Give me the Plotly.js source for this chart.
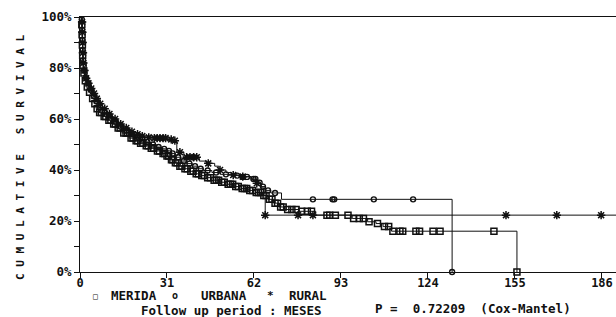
<!DOCTYPE html>
<html>
<head>
<meta charset="utf-8">
<script src="https://cdn.plot.ly/plotly-3.0.1.min.js"></script>
<style>html,body{margin:0;padding:0;background:#fff;}#chart{width:616px;height:317px;}</style>
</head>
<body>
<div id="chart"></div>
<script>
// ---- MERIDA (squares) step curve ----
var meridaTime = [0,0.6,0.7,0.8,0.9,1.0,1.2,1.6,2.2,3,4,5,5.8,6.6,8,9.5,11.5,13,15,17.5,19.5,21,23,25,27,29,30.5,32,33.5,35,37,39,41,43,45,47.5,50,52.5,55,57.5,60,62.5,65,67,69,71,73,78,84,97,102.5,105.5,108,111,155.7];
var meridaSurv = [100,97,93,89,85,81,78,75,72.5,70.5,68,66,64,62.5,61,59.5,58,56.5,54.5,52.5,51.5,50.5,49.5,48.5,47.5,46.5,45.5,44,42.8,41.5,40.5,39.5,38.5,37.8,37,36,35.2,34.4,33.5,32.7,32,31.2,30,28.5,27,25.5,24.5,23.8,22.3,21,19.7,19,17.8,16,0];
var meridaCensored = [0.65,0.75,0.85,0.95,1.1,1.4,1.9,2.6,3.4,4.5,5.3,6.1,7,7.6,8.6,9.2,10.3,11,12,12.6,13.6,14.3,15.6,16.4,17,18.2,18.9,20,20.6,21.6,22.4,23.6,24.3,25.4,26.2,27.6,28.3,29.6,30.2,31,31.6,32.6,33.1,34,34.6,35.6,36.3,37.4,38.2,39.5,40.3,41.4,42.2,43.4,44.3,45.5,46.5,47.8,48.6,49.4,50.5,51.4,52.8,53.6,54.4,55.5,56.4,57.8,58.6,59.4,60.5,61.5,62.8,63.6,64.4,65.5,66.3,67.5,68.4,69.5,70.4,71.5,72.4,74,75.5,77,79,81,82.5,88,89,91,95.5,97.5,99.5,101,103,106,108.5,110,111.5,114,115,119.7,121,125.8,128.3,147.5,155.7];

// ---- URBANA (circles) step curve ----
var urbanaTime = [0,0.6,0.7,0.8,0.9,1.0,1.2,1.8,2.5,3.5,4.5,5.5,6.5,8,9.5,11.5,13.5,15.5,17.5,19.5,21.5,23,25,27,29,31,32.5,34,36,38,40,42,44,47,50,54,58,61,63,64.5,66,68,71.8,132.6];
var urbanaSurv = [100,99,95,91,87,83,79,76,74,71.5,69,67,64.5,62.5,61,59,57,55.5,54,53,52,51,50,49,48.3,47.5,46.5,45,43.5,42.5,41.5,40.5,39.8,39,38.3,37.8,37.3,36.5,35,33.5,32,31,28.5,0];
var urbanaCensored = [0.65,0.75,0.85,0.95,1.1,1.5,2.2,3,4,5,6,7.2,8.8,10.5,12.5,14.5,16.5,18.5,20.5,22.2,24,26,28,30,31.7,33,35,37,39,41,43,45.5,48.5,52,56,58,59.5,61.8,62.5,64,65.2,67,69.5,83,90,90.6,104.7,118.7,132.6];

// ---- RURAL (asterisks) step curve ----
var ruralTime = [0,0.7,0.8,0.9,1.0,1.1,1.3,1.9,2.6,3.5,4.5,5.5,6.5,8,9.5,11.5,13.5,15.5,17.5,19.5,21.5,23,26,31,33,34.5,37,42.5,45,48,49.5,52,54,57,61,63,64.5,65.5,66,191];
var ruralSurv = [100,98,94,90,86,82,79,76,74,72,70,68,66,64,62,60,58,56.5,55,54,53.3,52.8,52.5,52,51.5,47,45,43.5,42.6,41.5,40,39,38,37.4,36.2,34.8,33,31,22.3,22.3];
var ruralCensored = [0.75,0.85,0.95,1.05,1.2,1.6,2.2,3,4,5,6,7.2,8.8,10.5,12.5,14.5,16.5,18.5,20.5,22.2,24.5,26.5,27.5,28.5,29.6,30.5,32.5,33.8,35.6,38,39.2,40.5,41.6,45.7,49.9,54.6,58,63,66,77.7,83,151.8,169.9,185.7];

// ---- axis ticks & texts ----
var xTicks = [0,31,62,93,124,155,186];
var yTicks = [0,20,40,60,80,100];
var groupNames = ['MERIDA','URBANA','RURAL'];
var yTitle = 'C U M U L A T I V E   S U R V I V A L';
var xTitle = 'Follow up period : MESES';
var pText = 'P =  0.72209  (Cox-Mantel)';

function stepAt(T, S, t) {
  var v = S[0];
  for (var i = 0; i < T.length; i++) { if (T[i] <= t + 1e-9) v = S[i]; }
  return v;
}
function censorY(T, S, C) { return C.map(function (t) { return stepAt(T, S, t); }); }

var ink = '#111';
var FONT = '"DejaVu Sans Mono", monospace';

function curve(T, S) {
  return {x: T, y: S, type: 'scatter', mode: 'lines', line: {shape: 'hv', color: ink, width: 1}, hoverinfo: 'skip', cliponaxis: false};
}
function marks(T, S, C, sym, size, lw) {
  return {x: C, y: censorY(T, S, C), type: 'scatter', mode: 'markers', cliponaxis: false,
    marker: {symbol: sym, size: size, color: ink, line: {color: ink, width: lw}}, hoverinfo: 'skip'};
}

var data = [
  curve(meridaTime, meridaSurv),
  curve(urbanaTime, urbanaSurv),
  curve(ruralTime, ruralSurv),
  marks(meridaTime, meridaSurv, meridaCensored, 'square-open', 6, 1.5),
  marks(urbanaTime, urbanaSurv, urbanaCensored, 'circle-open', 5, 1.4),
  marks(ruralTime, ruralSurv, ruralCensored, 'asterisk-open', 7, 1.5)
];

var L = 80, PW = 536, T0 = 17, PH = 255;
function px(x) { return (x - L) / PW; }
function py(y) { return (T0 + PH - y) / PH; }
var bold = {family: FONT, size: 12.5, color: ink, weight: 'bold'};

var annotations = [
  {text: yTitle, textangle: -90, x: px(20), y: py(158), font: {family: FONT, size: 11, color: ink, weight: 'bold'}},
  {text: '\u25A1', x: px(95), y: py(296), font: {family: FONT, size: 8, color: ink, weight: 'bold'}},
  {text: groupNames[0], x: px(134), y: py(295), font: bold},
  {text: 'o', x: px(175), y: py(295), font: {family: FONT, size: 10, color: ink, weight: 'bold'}},
  {text: groupNames[1], x: px(223.5), y: py(295), font: bold},
  {text: '*', x: px(270.5), y: py(295), font: {family: FONT, size: 11, color: ink, weight: 'bold'}},
  {text: groupNames[2], x: px(307.5), y: py(295), font: bold},
  {text: xTitle, x: px(231), y: py(310), font: bold},
  {text: pText, x: px(472.5), y: py(308), font: bold}
].map(function (a) {
  a.xref = 'paper'; a.yref = 'paper'; a.showarrow = false; a.xanchor = 'center'; a.yanchor = 'middle'; a.borderpad = 0; return a;
});

var layout = {
  width: 616, height: 317,
  margin: {l: L, r: 0, t: T0, b: 45, pad: 0},
  paper_bgcolor: '#fff', plot_bgcolor: '#fff',
  showlegend: false,
  xaxis: {range: [0, 191], showline: true, mirror: true, linecolor: ink, linewidth: 1,
    showgrid: false, zeroline: false, ticks: 'outside', ticklen: 5, tickcolor: ink, tickwidth: 1,
    ticklabelstandoff: -5,
    tickmode: 'array', tickvals: xTicks, ticktext: xTicks.map(String),
    tickfont: {family: FONT, size: 12, color: ink, weight: 'bold'}},
  yaxis: {range: [0, 100], showline: true, linecolor: ink, linewidth: 1,
    showgrid: false, zeroline: false, ticks: 'outside', ticklen: 5, tickcolor: ink, tickwidth: 1,
    tickmode: 'array', tickvals: yTicks, ticktext: yTicks.map(function (v) { return v + '%'; }),
    minor: {tickvals: [10, 30, 50, 70, 90], ticks: 'outside', ticklen: 5, tickcolor: ink, tickwidth: 1, showgrid: false},
    tickfont: {family: FONT, size: 12.5, color: ink, weight: 'bold'}},
  annotations: annotations
};

Plotly.newPlot('chart', data, layout, {displayModeBar: false, staticPlot: true});
</script>
</body>
</html>
